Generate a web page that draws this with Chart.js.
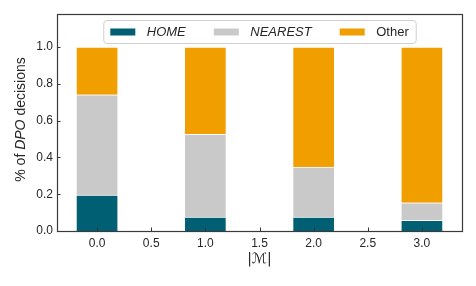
<!DOCTYPE html>
<html>
<head>
<meta charset="utf-8">
<script src="https://cdn.jsdelivr.net/npm/chart.js@4"></script>
<style>
  html, body { margin: 0; padding: 0; background: #fff; }
  #wrap { width: 476px; height: 286px; }
</style>
</head>
<body>
<div id="wrap"><canvas id="myChart" width="476" height="286"></canvas></div>
<script>
// data
const positions = [0, 1, 2, 3];
const homeShare = [0.195, 0.076, 0.076, 0.058];
const nearestShare = [0.546, 0.449, 0.271, 0.095];
const otherShare = [0.259, 0.475, 0.653, 0.847];
const xTicks = [0, 0.5, 1, 1.5, 2, 2.5, 3];
const yTicks = [0, 0.2, 0.4, 0.6, 0.8, 1.0];

const FONT = '"Liberation Sans", Arial, sans-serif';
const INK = '#262626';

const toPoints = vals => positions.map((x, i) => ({ x: x, y: vals[i] }));

// frame, inward ticks, legend and axis titles
const decor = {
    id: 'decor',
    afterDraw(chart) {
        const ctx = chart.ctx;
        const a = chart.chartArea;
        const xs = chart.scales.x, ys = chart.scales.y;
        ctx.save();

        // inward tick marks
        ctx.strokeStyle = '#333';
        ctx.lineWidth = 1;
        ctx.beginPath();
        yTicks.forEach(v => {
            const y = Math.round(ys.getPixelForValue(v)) + 0.5;
            ctx.moveTo(a.left, y); ctx.lineTo(a.left + 3.5, y);
        });
        xTicks.forEach(v => {
            const x = Math.round(xs.getPixelForValue(v)) + 0.5;
            ctx.moveTo(x, a.bottom); ctx.lineTo(x, a.bottom - 3.5);
        });
        ctx.stroke();

        // frame
        ctx.strokeStyle = '#3a3a3a';
        ctx.lineWidth = 1.2;
        ctx.strokeRect(Math.round(a.left) + 0.5, Math.round(a.top) + 0.5,
            Math.round(a.right - a.left), Math.round(a.bottom - a.top));

        // legend
        const fontN = '13px ' + FONT, fontI = 'italic 13px ' + FONT;
        const sw = 25, sh = 7, gapText = 11.5, gapItem = 28, pad = 7;
        const items = chart.data.datasets.map(ds => {
            ctx.font = ds.italic ? fontI : fontN;
            return { ds: ds, w: ctx.measureText(ds.label).width };
        });
        let content = items.reduce((s, it) => s + sw + gapText + it.w, 0) + gapItem * (items.length - 1);
        const cx = (a.left + a.right) / 2;
        const bx = cx - content / 2 - pad, by = 20, bw = content + 2 * pad, bh = 23;
        ctx.beginPath();
        ctx.roundRect(bx + 0.5, by + 0.5, bw, bh, 3);
        ctx.fillStyle = 'rgba(255,255,255,0.85)';
        ctx.fill();
        ctx.strokeStyle = '#d0d0d0';
        ctx.lineWidth = 1;
        ctx.stroke();
        let x = bx + pad;
        const cy = by + bh / 2 + 0.5;
        items.forEach(it => {
            ctx.fillStyle = it.ds.backgroundColor;
            ctx.fillRect(x, cy - sh / 2, sw, sh);
            x += sw + gapText;
            ctx.font = it.ds.italic ? fontI : fontN;
            ctx.fillStyle = INK;
            ctx.textBaseline = 'middle';
            ctx.textAlign = 'left';
            ctx.fillText(it.ds.label, x, cy);
            x += it.w + gapItem;
        });

        // y title with italic DPO
        const parts = [['% of ', false], ['DPO', true], [' decisions', false]];
        const tf = 14;
        let total = 0;
        parts.forEach(p => { ctx.font = (p[1] ? 'italic ' : '') + tf + 'px ' + FONT; total += ctx.measureText(p[0]).width; });
        ctx.translate(21, (a.top + a.bottom) / 2 - 3);
        ctx.rotate(-Math.PI / 2);
        let tx = -total / 2;
        ctx.fillStyle = INK;
        ctx.textBaseline = 'middle';
        parts.forEach(p => {
            ctx.font = (p[1] ? 'italic ' : '') + tf + 'px ' + FONT;
            ctx.fillText(p[0], tx, 0);
            tx += ctx.measureText(p[0]).width;
        });
        ctx.setTransform(1, 0, 0, 1, 0, 0);

        // x title
        ctx.font = '14px "DejaVu Sans", ' + FONT;
        ctx.textAlign = 'center';
        ctx.fillText('|ℳ|', cx, 259);
        ctx.restore();
    }
};

function drawChart() {
    const ctx = document.getElementById('myChart').getContext('2d');

    const common = { borderColor: '#ffffff', borderWidth: 1, barThickness: 42 };

    new Chart(ctx, {
        type: 'bar',
        data: {
            datasets: [
                { label: 'HOME', italic: true, data: toPoints(homeShare), backgroundColor: '#005f73', ...common },
                { label: 'NEAREST', italic: true, data: toPoints(nearestShare), backgroundColor: '#c8c9c8', ...common },
                { label: 'Other', italic: false, data: toPoints(otherShare), backgroundColor: '#f09e00', ...common }
            ]
        },
        options: {
            responsive: false,
            animation: false,
            layout: { padding: { top: 14, right: 14, left: 0, bottom: 0 } },
            plugins: { legend: { display: false }, tooltip: { enabled: false } },
            scales: {
                x: {
                    type: 'linear',
                    stacked: true,
                    offset: false,
                    min: -0.37,
                    max: 3.37,
                    afterBuildTicks: s => { s.ticks = xTicks.map(v => ({ value: v })); },
                    afterFit: s => { s.height = 55; },
                    grid: { display: false, drawTicks: false, offset: false },
                    border: { display: false },
                    ticks: {
                        padding: 5,
                        color: INK,
                        font: { family: FONT, size: 12 },
                        maxRotation: 0,
                        callback: v => v.toFixed(1)
                    }
                },
                y: {
                    stacked: true,
                    min: 0,
                    max: 1.18,
                    afterBuildTicks: s => { s.ticks = yTicks.map(v => ({ value: v })); },
                    afterFit: s => { s.width = 57; },
                    grid: { display: false, drawTicks: false },
                    border: { display: false },
                    ticks: {
                        padding: 4,
                        color: INK,
                        font: { family: FONT, size: 12 },
                        callback: v => v.toFixed(1)
                    }
                }
            }
        },
        plugins: [decor]
    });
}

document.addEventListener('DOMContentLoaded', () => {
    try {
        drawChart();
    } catch (error) {
        console.error(error);
    }
});
</script>
</body>
</html>
